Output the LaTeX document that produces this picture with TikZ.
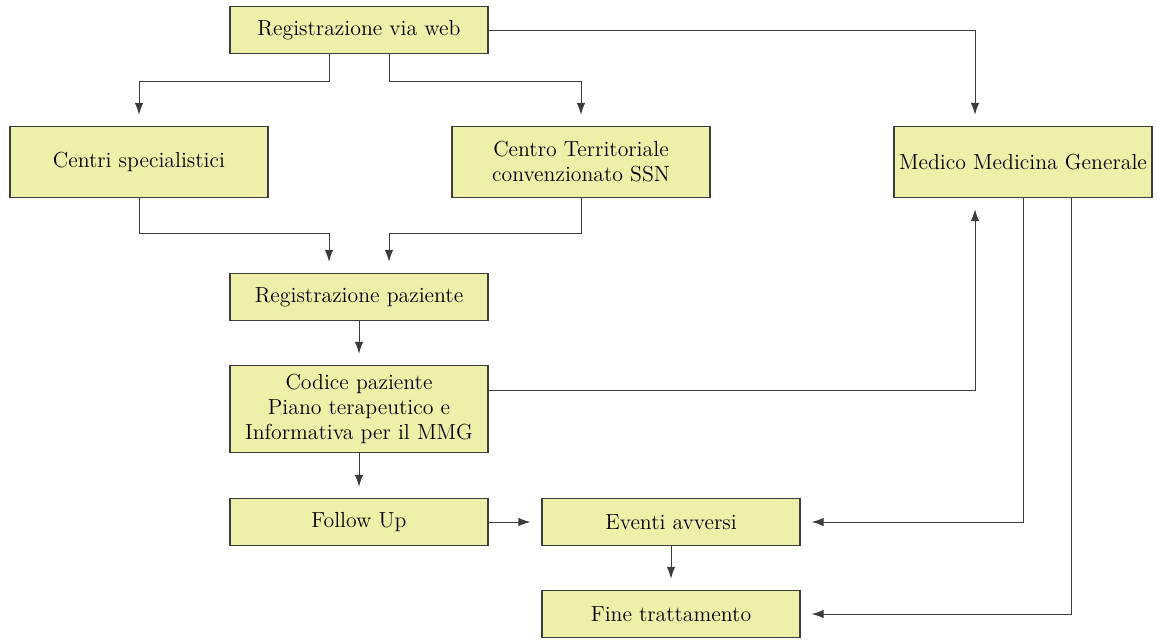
\documentclass[tikz,border=0pt]{standalone}
\usetikzlibrary{arrows.meta}
\definecolor{boxfill}{RGB}{238,240,170}
\definecolor{boxline}{RGB}{60,60,60}

\begin{document}
\begin{tikzpicture}[
    x=0.02cm, y=-0.02cm,
    box/.style={rectangle,draw=boxline,line width=0.8pt,fill=boxfill,
      inner sep=0pt,minimum width=5.16cm,minimum height=0.94cm,align=center},
    link/.style={draw=boxline,line width=0.55pt,-{Latex[length=2.4mm,width=1.7mm]},shorten >=2.2mm},
    font=\fontsize{12.4}{14.2}\selectfont
    ]

    \useasboundingbox (0,0) rectangle (1157,640);

    % top row:
    \node (web) at (359, 30) [box] {Registrazione via web};
    \node (cs) at (139, 162) [box,minimum height=1.42cm] {Centri specialistici};
    \node (ct) at (581, 162) [box,minimum height=1.42cm] {Centro Territoriale\\convenzionato SSN};
    \node (mmg) at (1023, 162) [box,minimum height=1.42cm] {Medico Medicina Generale};

    % middle column:
    \node (rp) at (359, 297) [box] {Registrazione paziente};
    \node (cod) at (359, 409) [box,minimum height=1.74cm] {Codice paziente\\Piano terapeutico e\\Informativa per il MMG};
    \node (fu) at (359, 522) [box] {Follow Up};

    % right column:
    \node (ea) at (671, 522) [box] {Eventi avversi};
    \node (ft) at (671, 614) [box] {Fine trattamento};

    \draw [link] ([xshift=-6mm]web.south) -- ++(0,27) -| (cs.north);
    \draw [link] ([xshift=6mm]web.south) -- ++(0,27) -| (ct.north);
    \draw [link] (web.east) -| ([xshift=-9.6mm]mmg.north);

    \draw [link] (cs.south) -- ++(0,35) -| ([xshift=-6mm]rp.north);
    \draw [link] (ct.south) -- ++(0,35) -| ([xshift=6mm]rp.north);

    \draw [link] (rp) -- (cod);
    \draw [link] ([yshift=3.8mm]cod.east) -| ([xshift=-9.6mm]mmg.south);
    \draw [link] (cod) -- (fu);
    \draw [link] (fu) -- (ea);
    \draw [link] (ea) -- (ft);

    \draw [link] (mmg.south) |- (ea.east);
    \draw [link] ([xshift=9.6mm]mmg.south) |- (ft.east);

  \end{tikzpicture}
\end{document}
